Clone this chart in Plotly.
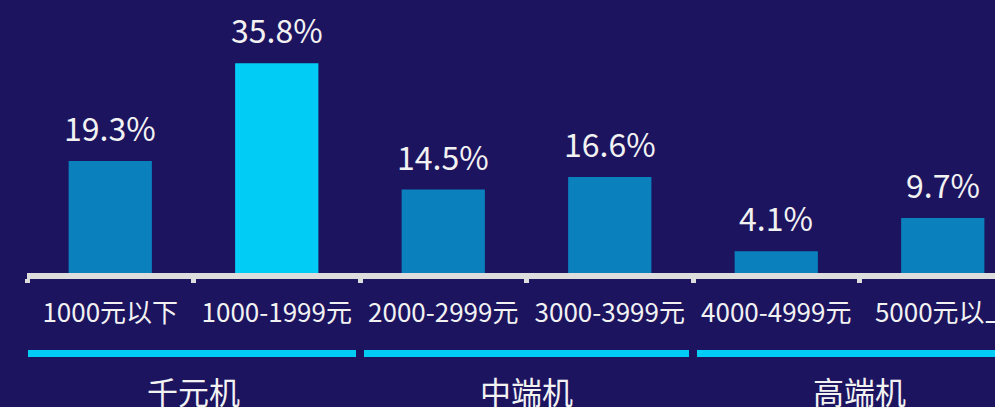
import plotly.graph_objects as go

categories = ["1000元以下", "1000-1999元", "2000-2999元", "3000-3999元", "4000-4999元", "5000元以上"]
shares = [19.3, 35.8, 14.5, 16.6, 4.1, 9.7]
highlight_index = 1
groups = [("千元机", 0, 1), ("中端机", 2, 3), ("高端机", 4, 5)]

BG = "#1d1460"
BAR = "#0a80bd"
HI = "#00ccf6"
AXIS = "#dddddd"
TXT = "#f2f2f2"
FONT = "Noto Sans CJK SC"

colors = [HI if i == highlight_index else BAR for i in range(len(shares))]

fig = go.Figure(go.Bar(x=categories, y=shares, width=0.5, marker=dict(color=colors, line=dict(width=0)),
                       hoverinfo="skip"))

for i, v in enumerate(shares):
    fig.add_annotation(x=i, y=v, text=f"{v}%", showarrow=False, yanchor="bottom", yshift=9,
                       font=dict(family=FONT, size=32, color=TXT), xref="x", yref="y")

gap = 0.024
for name, a, b in groups:
    fig.add_shape(type="line", xref="x", yref="paper", x0=a - 0.5 + gap / 4 if a == 0 else a - 0.5 + gap,
                  x1=b + 0.5 - gap, y0=-0.295, y1=-0.295, line=dict(color=HI, width=7))
    fig.add_annotation(x=(a + b) / 2, y=-0.4286, xref="x", yref="paper", text=name, showarrow=False,
                       yanchor="middle", font=dict(family=FONT, size=31, color=TXT))

px_per_unit = 5.93
fig.update_layout(
    width=995, height=407,
    margin=dict(l=27, r=0, t=0, b=134, autoexpand=False),
    paper_bgcolor=BG, plot_bgcolor=BG,
    showlegend=False,
    xaxis=dict(type="category", range=[-0.5, -0.5 + 968 / 166.5], automargin=False,
               showline=True, linecolor=AXIS, linewidth=6, showgrid=False, zeroline=False,
               ticks="outside", tickson="boundaries", ticklen=4, tickwidth=5, tickcolor=AXIS,
               ticklabelstandoff=12, ticklabeloverflow="allow",
               tickfont=dict(family=FONT, size=26, color=TXT), fixedrange=True),
    yaxis=dict(range=[2.5 / px_per_unit, (273 + 2.5) / px_per_unit], visible=False, showgrid=False,
               zeroline=False, fixedrange=True, automargin=False),
)

fig.write_html("out.html", config={"displayModeBar": False})
with open("out.html", encoding="utf-8") as f:
    html = f.read()
html = html.replace("<head>", "<head><style>html,body{margin:0;padding:0;overflow:hidden;background:#1d1460;}</style>", 1)
with open("out.html", "w", encoding="utf-8") as f:
    f.write(html)
